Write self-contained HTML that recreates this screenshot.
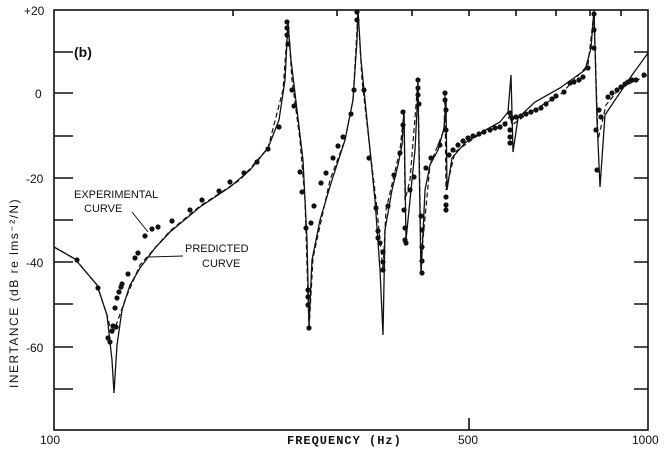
<!DOCTYPE html><html><head><style>body{margin:0;background:#fff}svg{display:block}.m{font-family:"Liberation Mono",monospace}.s{font-family:"Liberation Sans",sans-serif}text{fill:#111}</style></head><body>
<svg width="666" height="449" viewBox="0 0 666 449">
<g stroke="#111" stroke-width="1.6" fill="none">
<rect x="54" y="10" width="594" height="420"/>
<path d="M54 52h19M54 93h19M54 136h19M54 178h19M54 220h19M54 262h19M54 304h19M54 347h19M54 389h19"/>
<path d="M648 52h-14M648 93h-14M648 136h-14M648 178h-14M648 220h-14M648 262h-14M648 304h-14M648 347h-14M648 389h-14"/>
<path d="M233 10v6M337 10v6M412 10v6M469 10v6M516 10v6M556 10v6M590 10v6M621 10v6M469 430v-12"/>
</g>
<path fill="none" stroke="#111" stroke-width="1.3" d="M54 247 L75 259 L97 285 L107 315 L112 360 L114 393 L117 345 L122 310 L130 285 L140 268 L155 248 L170 232 L200 207 L230 187 L250 170 L268 148 L279 120 L285 80 L288 22 L291 60 L297 110 L303 160 L307 240 L309 325 L312 260 L320 220 L332 180 L345 140 L353 100 L357 40 L358 10 L361 60 L368 130 L375 200 L380 270 L383 335 L385 230 L392 190 L398 165 L402 145 L404 110 L406 240 L410 200 L415 150 L418 90 L421 275 L425 190 L430 165 L438 150 L444 128 L446 100 L447 190 L452 158 L465 143 L480 133 L500 122 L508 112 L511 75 L513 152 L518 118 L535 102 L560 88 L585 70 L591 48 L594 10 L597 120 L600 187 L605 115 L615 100 L630 78 L648 53"/>
<path fill="none" stroke="#111" stroke-width="1.2" stroke-dasharray="5,3" d="M54 247 L75 259 L97 285 L107 315 L112 335 L118 320 L125 300 L140 265 L170 231 L200 206 L240 180 L268 148 L283 90 L288 22 L292 80 L300 140 L305 200 L309 330 L313 258 L330 180 L345 140 L353 100 L358 12 L362 80 L370 150 L376 200 L383 270 L386 210 L400 150 L404 112 L405 200 L410 180 L418 80 L421 260 L430 165 L444 130 L445 95 L446 190 L455 152 L480 134 L505 125 L510 115 L512 125 L530 112 L560 95 L588 65 L594 12 L598 140 L606 105 L620 88 L648 75"/>
<g fill="#111">
<circle cx="77" cy="260" r="2.6"/><circle cx="98" cy="288" r="2.6"/><circle cx="108" cy="338" r="2.6"/><circle cx="110" cy="342" r="2.6"/><circle cx="112" cy="331" r="2.6"/><circle cx="113" cy="326" r="2.6"/><circle cx="116" cy="327" r="2.6"/><circle cx="115" cy="308" r="2.6"/><circle cx="117" cy="298" r="2.6"/><circle cx="119" cy="292" r="2.6"/><circle cx="121" cy="287" r="2.6"/><circle cx="122" cy="284" r="2.6"/><circle cx="128" cy="274" r="2.6"/><circle cx="135" cy="258" r="2.6"/><circle cx="138" cy="253" r="2.6"/><circle cx="145" cy="236" r="2.6"/><circle cx="152" cy="229" r="2.6"/><circle cx="158" cy="227" r="2.6"/><circle cx="172" cy="221" r="2.6"/><circle cx="190" cy="210" r="2.6"/><circle cx="202" cy="200" r="2.6"/><circle cx="219" cy="191" r="2.6"/><circle cx="230" cy="182" r="2.6"/><circle cx="244" cy="173" r="2.6"/><circle cx="257" cy="162" r="2.6"/><circle cx="268" cy="149" r="2.6"/><circle cx="279" cy="127" r="2.6"/><circle cx="287" cy="22" r="2.6"/><circle cx="287" cy="28" r="2.6"/><circle cx="287" cy="35" r="2.6"/><circle cx="288" cy="44" r="2.6"/><circle cx="292" cy="90" r="2.6"/><circle cx="294" cy="106" r="2.6"/><circle cx="300" cy="172" r="2.6"/><circle cx="302" cy="192" r="2.6"/><circle cx="306" cy="228" r="2.6"/><circle cx="308" cy="290" r="2.6"/><circle cx="308" cy="297" r="2.6"/><circle cx="308" cy="305" r="2.6"/><circle cx="309" cy="328" r="2.6"/><circle cx="311" cy="223" r="2.6"/><circle cx="314" cy="206" r="2.6"/><circle cx="321" cy="183" r="2.6"/><circle cx="326" cy="173" r="2.6"/><circle cx="333" cy="158" r="2.6"/><circle cx="338" cy="146" r="2.6"/><circle cx="343" cy="137" r="2.6"/><circle cx="351" cy="114" r="2.6"/><circle cx="354" cy="90" r="2.6"/><circle cx="357" cy="12" r="2.6"/><circle cx="357" cy="20" r="2.6"/><circle cx="364" cy="90" r="2.6"/><circle cx="369" cy="158" r="2.6"/><circle cx="376" cy="208" r="2.6"/><circle cx="378" cy="231" r="2.6"/><circle cx="378" cy="238" r="2.6"/><circle cx="380" cy="243" r="2.6"/><circle cx="383" cy="252" r="2.6"/><circle cx="383" cy="262" r="2.6"/><circle cx="383" cy="270" r="2.6"/><circle cx="388" cy="206" r="2.6"/><circle cx="394" cy="175" r="2.6"/><circle cx="400" cy="153" r="2.6"/><circle cx="403" cy="125" r="2.6"/><circle cx="403" cy="112" r="2.6"/><circle cx="404" cy="210" r="2.6"/><circle cx="405" cy="228" r="2.6"/><circle cx="405" cy="240" r="2.6"/><circle cx="406" cy="243" r="2.6"/><circle cx="410" cy="190" r="2.6"/><circle cx="414" cy="177" r="2.6"/><circle cx="418" cy="80" r="2.6"/><circle cx="418" cy="88" r="2.6"/><circle cx="418" cy="95" r="2.6"/><circle cx="419" cy="104" r="2.6"/><circle cx="421" cy="216" r="2.6"/><circle cx="422" cy="230" r="2.6"/><circle cx="422" cy="247" r="2.6"/><circle cx="422" cy="261" r="2.6"/><circle cx="422" cy="273" r="2.6"/><circle cx="426" cy="168" r="2.6"/><circle cx="431" cy="158" r="2.6"/><circle cx="440" cy="145" r="2.6"/><circle cx="445" cy="93" r="2.6"/><circle cx="445" cy="100" r="2.6"/><circle cx="446" cy="110" r="2.6"/><circle cx="446" cy="130" r="2.6"/><circle cx="446" cy="197" r="2.6"/><circle cx="446" cy="205" r="2.6"/><circle cx="446" cy="210" r="2.6"/><circle cx="449" cy="155" r="2.6"/><circle cx="453" cy="150" r="2.6"/><circle cx="458" cy="145" r="2.6"/><circle cx="463" cy="141" r="2.6"/><circle cx="468" cy="138" r="2.6"/><circle cx="473" cy="136" r="2.6"/><circle cx="479" cy="134" r="2.6"/><circle cx="484" cy="132" r="2.6"/><circle cx="490" cy="130" r="2.6"/><circle cx="495" cy="128" r="2.6"/><circle cx="500" cy="127" r="2.6"/><circle cx="505" cy="124" r="2.6"/><circle cx="510" cy="113" r="2.6"/><circle cx="510" cy="130" r="2.6"/><circle cx="510" cy="137" r="2.6"/><circle cx="510" cy="143" r="2.6"/><circle cx="512" cy="118" r="2.6"/><circle cx="516" cy="117" r="2.6"/><circle cx="521" cy="116" r="2.6"/><circle cx="526" cy="114" r="2.6"/><circle cx="531" cy="112" r="2.6"/><circle cx="536" cy="110" r="2.6"/><circle cx="541" cy="108" r="2.6"/><circle cx="546" cy="104" r="2.6"/><circle cx="552" cy="99" r="2.6"/><circle cx="556" cy="96" r="2.6"/><circle cx="564" cy="92" r="2.6"/><circle cx="570" cy="83" r="2.6"/><circle cx="574" cy="82" r="2.6"/><circle cx="579" cy="80" r="2.6"/><circle cx="583" cy="77" r="2.6"/><circle cx="588" cy="68" r="2.6"/><circle cx="594" cy="14" r="2.6"/><circle cx="594" cy="30" r="2.6"/><circle cx="594" cy="48" r="2.6"/><circle cx="596" cy="130" r="2.6"/><circle cx="597" cy="170" r="2.6"/><circle cx="599" cy="110" r="2.6"/><circle cx="601" cy="117" r="2.6"/><circle cx="608" cy="97" r="2.6"/><circle cx="612" cy="93" r="2.6"/><circle cx="617" cy="90" r="2.6"/><circle cx="621" cy="87" r="2.6"/><circle cx="625" cy="84" r="2.6"/><circle cx="628" cy="82" r="2.6"/><circle cx="632" cy="80" r="2.6"/><circle cx="636" cy="80" r="2.6"/><circle cx="644" cy="75" r="2.6"/>
</g>
<g stroke="#111" stroke-width="1" fill="none"><path d="M132 212 L148 232 M149 257 L183 256"/></g>
<g class="s">
<text x="74" y="57" font-size="14" font-weight="bold">(b)</text>
<text x="74" y="198" font-size="11">EXPERIMENTAL</text><text x="84" y="212" font-size="11">CURVE</text>
<text x="185" y="252" font-size="11">PREDICTED</text><text x="202" y="267" font-size="11">CURVE</text>
<text x="24" y="15" font-size="12">+20</text><text x="35" y="98" font-size="12">0</text>
<text x="26" y="183" font-size="12">-20</text><text x="26" y="267" font-size="12">-40</text><text x="26" y="352" font-size="12">-60</text>
<text x="40" y="444" font-size="12">100</text><text x="458" y="444" font-size="12">500</text><text x="632" y="444" font-size="12">1000</text>
<text transform="translate(18,388) rotate(-90)" font-size="12" letter-spacing="1.5">INERTANCE (dB re lms⁻²/N)</text>
</g>
<text class="m" x="287" y="444" font-size="12" font-weight="bold" letter-spacing="1">FREQUENCY (Hz)</text>
</svg></body></html>
